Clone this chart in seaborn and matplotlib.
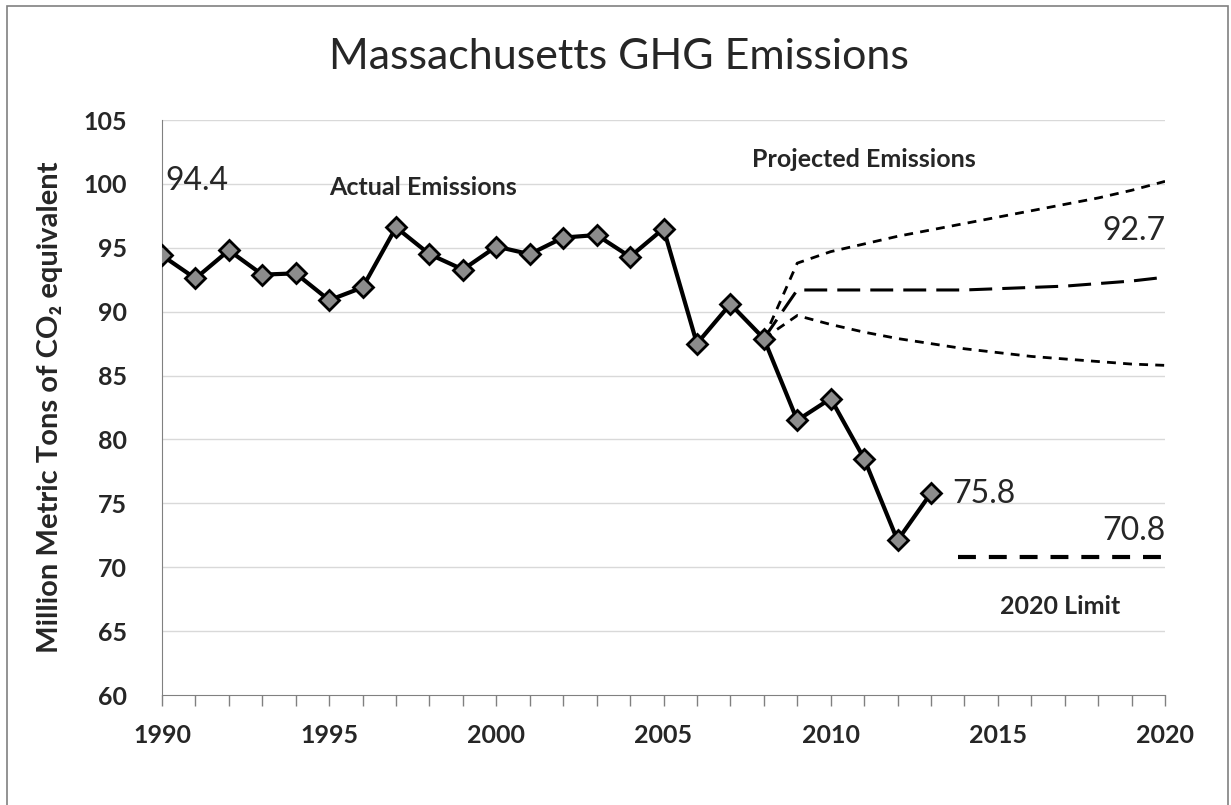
import numpy as np
import pandas as pd
import matplotlib.pyplot as plt
import seaborn as sns
from matplotlib.patches import Rectangle

# actual emissions (million metric tons CO2e)
years = list(range(1990, 2014))
emissions = [94.4, 92.6, 94.8, 92.9, 93.0, 90.9, 91.9, 96.6, 94.5, 93.3,
             95.1, 94.5, 95.8, 96.0, 94.3, 96.5, 87.5, 90.6, 87.9, 81.5,
             83.2, 78.5, 72.1, 75.8]

# projections starting from 2008
proj_years = list(range(2008, 2021))
proj_high = [87.9, 93.8, 94.7, 95.3, 95.9, 96.4, 96.9, 97.4, 97.9, 98.4, 98.9, 99.5, 100.2]
proj_mid = [87.9, 91.7, 91.7, 91.7, 91.7, 91.7, 91.7, 91.8, 91.9, 92.0, 92.2, 92.4, 92.7]
proj_low = [87.9, 89.7, 89.0, 88.4, 87.9, 87.5, 87.1, 86.8, 86.5, 86.3, 86.1, 85.9, 85.8]

# 2020 limit
limit_years = [2013.8, 2020]
limit_value = [70.8, 70.8]

sns.set_style("white")
plt.rcParams['font.family'] = ['Lato', 'DejaVu Sans']

df = pd.DataFrame({'Year': years, 'Emissions': emissions})
df_proj = pd.DataFrame({'Year': proj_years, 'High': proj_high, 'Mid': proj_mid, 'Low': proj_low})

fig = plt.figure(figsize=(12.31, 8.05), dpi=100)
ax = fig.add_axes([0.1316, 0.1366, 0.8148, 0.7143])

# gridlines
for v in range(65, 106, 5):
    ax.axhline(v, color='#d9d9d9', lw=1.0, zorder=0)

# projections
sns.lineplot(data=df_proj, x='Year', y='High', ax=ax, color='black', lw=2.0,
             linestyle=(0, (3.2, 2.6)), zorder=2)
sns.lineplot(data=df_proj, x='Year', y='Low', ax=ax, color='black', lw=2.0,
             linestyle=(0, (3.2, 2.6)), zorder=2)
sns.lineplot(data=df_proj, x='Year', y='Mid', ax=ax, color='black', lw=2.2,
             linestyle=(0, (7.5, 3.3)), zorder=2)

# limit line
sns.lineplot(x=limit_years, y=limit_value, ax=ax, color='black', lw=3.0,
             linestyle=(0, (4.3, 3.1)), zorder=2)

# actual emissions
sns.lineplot(data=df, x='Year', y='Emissions', ax=ax, color='black', lw=3.0,
             marker='D', markersize=10.5, markerfacecolor='#8c8c8c',
             markeredgecolor='black', markeredgewidth=2, zorder=3)

ax.set_xlim(1990, 2020)
ax.set_ylim(60, 105)
ax.set_xticks(range(1990, 2021, 5))
ax.set_xticks(range(1990, 2021), minor=True)
ax.set_yticks(range(60, 106, 5))
ax.tick_params(axis='x', which='both', direction='out', length=8, width=1,
               color='#808080', bottom=True)
ax.tick_params(axis='x', which='major', labelsize=18, pad=13)
ax.tick_params(axis='y', length=0, labelsize=18, pad=25)
for lbl in ax.get_xticklabels() + ax.get_yticklabels():
    lbl.set_fontweight('bold')

sns.despine(ax=ax, top=True, right=True)
ax.spines['left'].set_color('#808080')
ax.spines['bottom'].set_color('#808080')

ax.set_xlabel('')
ax.set_ylabel('Million Metric Tons of CO\u2082 equivalent', fontsize=21,
              fontweight='bold', labelpad=15)

# annotations
ax.text(1990.1, 99.5, '94.4', fontsize=23, ha='left', va='baseline')
ax.text(2013.65, 75.0, '75.8', fontsize=23, ha='left', va='baseline')
ax.text(2020, 95.6, '92.7', fontsize=23, ha='right', va='baseline')
ax.text(2020, 72.1, '70.8', fontsize=23, ha='right', va='baseline')
ax.text(1995.0, 99.7, 'Actual Emissions', fontsize=18, fontweight='bold', ha='left', va='center')
ax.text(2007.65, 101.9, 'Projected Emissions', fontsize=18, fontweight='bold', ha='left', va='center')
ax.text(2016.85, 66.95, '2020 Limit', fontsize=18, fontweight='bold', ha='center', va='center')

fig.text(0.503, 0.929, 'Massachusetts GHG Emissions', fontsize=31, ha='center', va='center')

# outer frame
fig.patches.append(Rectangle((7 / 1231, -0.01), 1221 / 1231, 1 - 6 / 805 + 0.01,
                             transform=fig.transFigure, fill=False,
                             edgecolor='#808080', lw=1.2))

fig.savefig('out.png', dpi=100)
